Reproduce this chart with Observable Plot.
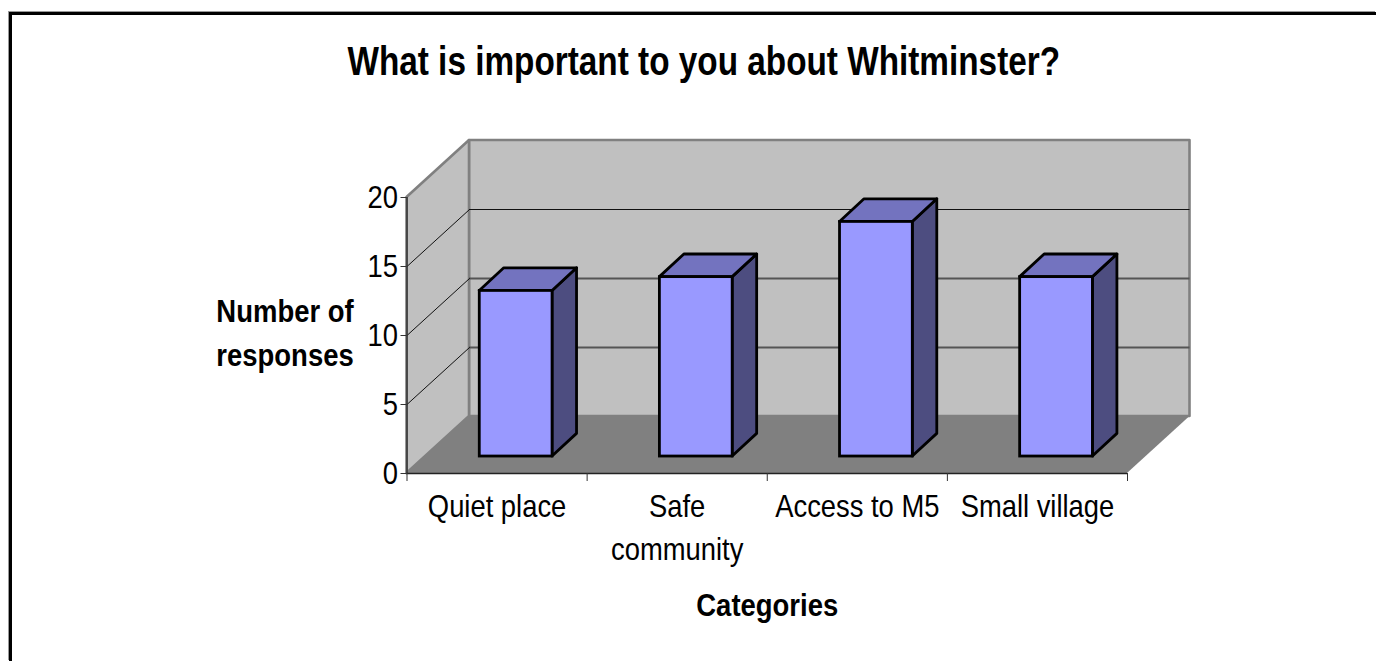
<!DOCTYPE html>
<html>
<head>
<meta charset="utf-8">
<script src="https://cdn.jsdelivr.net/npm/d3@7"></script>
<script src="https://cdn.jsdelivr.net/npm/@observablehq/plot@0.6"></script>
<style>
  html, body { margin: 0; padding: 0; background: #fff; width: 1376px; height: 661px; overflow: hidden; }
  body { font-family: "Liberation Sans", Arial, sans-serif; color: #000; position: relative; }
  #frame { position: absolute; left: 9px; top: 12px; right: 0; bottom: 0; border-left: 3px solid #000; border-top: 3px solid #000; box-shadow: -1px -1px 0 #999; }
  #head { position: relative; height: 100px; text-align: center; width: 1408px; }
  #head h1 { position: absolute; left: 0; right: 0; top: 39px; margin: 0; font-size: 40px; line-height: 44px; font-weight: bold; white-space: nowrap; }
  #head h1 span { display: inline-block; transform-origin: center; }
  #chart { display: block; position: relative; }
</style>
</head>
<body>
<div id="frame"></div>
<div id="head"><h1><span id="title">What is important to you about Whitminster?</span></h1></div>
<div id="chart"></div>
<script>
const categories = ["Quiet place", "Safe\ncommunity", "Access to M5", "Small village"];
const responses = [12, 13, 17, 13];
const yTicks = [0, 5, 10, 15, 20];
const yTitle = "Number of\nresponses";
const xTitle = "Categories";

// Depth of the 3D box and of each column, in data units of the two scales.
const wallDx = 0.347, wallDy = 4.13;
const barInsetDx = 0.106, barInsetDy = 1.23;
const barDx = 0.136, barDy = 1.64, barWidth = 0.404;
const n = categories.length, yMax = 20;

const bars = responses.map((v, i) => {
  const x0 = i + (1 - barWidth) / 2 + barInsetDx;
  return { x0, x1: x0 + barWidth, base: barInsetDy, top: barInsetDy + v };
});

const sideWall = [
  { x: 0, y1: 0, y2: yMax },
  { x: wallDx, y1: wallDy, y2: yMax + wallDy }
];
const backWall = [
  { x: wallDx, y1: wallDy, y2: yMax + wallDy },
  { x: n + wallDx, y1: wallDy, y2: yMax + wallDy }
];
const floor = [
  { y: 0, x1: 0, x2: n },
  { y: wallDy, x1: wallDx, x2: n + wallDx }
];
const barFront = bars.map((b, i) => ({ i, x1: b.x0, x2: b.x1, y1: b.base, y2: b.top }));
const barSide = bars.flatMap((b, i) => [
  { i, x: b.x1, y1: b.base, y2: b.top },
  { i, x: b.x1 + barDx, y1: b.base + barDy, y2: b.top + barDy }
]);
const barTop = bars.flatMap((b, i) => [
  { i, y: b.top, x1: b.x0, x2: b.x1 },
  { i, y: b.top + barDy, x1: b.x0 + barDx, x2: b.x1 + barDx }
]);
const inner = yTicks.filter(v => v > 0 && v < yMax);
const thinGrid = inner.filter(v => v === 15);
const thickGrid = inner.filter(v => v !== 15);

const chart = Plot.plot({
  width: 1376, height: 561,
  marginLeft: 406.5, marginRight: 249, marginTop: 97, marginBottom: 188,
  x: { type: "linear", domain: [0, n] },
  y: { type: "linear", domain: [0, yMax] },
  style: { background: "transparent", fontFamily: "'Liberation Sans', Arial, sans-serif", color: "#000", overflow: "visible" },
  marks: [
    // walls
    Plot.area(backWall, { x1: "x", y1: "y1", y2: "y2", fill: "#c0c0c0", stroke: "#808080", strokeWidth: 2.6 }),
    Plot.area(sideWall, { x1: "x", y1: "y1", y2: "y2", fill: "#c0c0c0", stroke: "#808080", strokeWidth: 2.6 }),
    Plot.area(floor, { x1: "x1", x2: "x2", y1: "y", y2: "y", fill: "#808080" }),
    // gridlines: back wall and side wall
    Plot.ruleY(thickGrid, { y: d => d + wallDy, x1: wallDx, x2: n + wallDx, stroke: "#555", strokeWidth: 1.8 }),
    Plot.ruleY(thinGrid, { y: d => d + wallDy, x1: wallDx, x2: n + wallDx, stroke: "#111", strokeWidth: 1 }),
    ...inner.map(v => Plot.line([[0, v], [wallDx, v + wallDy]], { stroke: "#111", strokeWidth: 1 })),
    // axis lines
    Plot.ruleX([0], { y1: 0, y2: yMax, stroke: "#333", strokeWidth: 1.5 }),
    Plot.ruleY([0], { x1: 0, x2: n, stroke: "#222", strokeWidth: 1.5 }),
    Plot.axisY({ ticks: yTicks, tickSize: 6, tickPadding: 3, fontSize: 32, label: null, stroke: "#333" }),
    Plot.axisX({ ticks: d3.range(n + 1), tickSize: 8, tickFormat: () => "", label: null, stroke: "#333" }),
    Plot.axisX({ ticks: categories.map((_, i) => i + 0.5), tickSize: 0, tickPadding: 13, fontSize: 32, lineHeight: 1.34,
                 tickFormat: d => categories[d - 0.5], label: null, textOverflow: null, lineWidth: Infinity }),
    // columns
    Plot.area(barSide, { x1: "x", y1: "y1", y2: "y2", z: "i", fill: "#4d4d80", stroke: "#000", strokeWidth: 2.8 }),
    Plot.area(barTop, { x1: "x1", x2: "x2", y1: "y", y2: "y", z: "i", fill: "#7373bf", stroke: "#000", strokeWidth: 2.8 }),
    Plot.rect(barFront, { x1: "x1", x2: "x2", y1: "y1", y2: "y2", fill: "#9999ff", stroke: "#000", strokeWidth: 2.8 }),
    // titles
    Plot.text([yTitle], { text: d => d, frameAnchor: "left", textAnchor: "middle", dx: -122, dy: -5.5, fontSize: 31, fontWeight: "bold", lineHeight: 1.42 }),
    Plot.text([xTitle], { text: d => d, frameAnchor: "bottom", dy: 142, fontSize: 31, fontWeight: "bold" })
  ]
});
document.getElementById("chart").appendChild(chart);

// The original's type is tall and narrow: squeeze glyphs horizontally.
const squeezeRegular = 0.855, squeezeBold = 0.886;
chart.querySelectorAll("text").forEach(t => {
  const bold = t.closest("[font-weight]") && t.closest("[font-weight]").getAttribute("font-weight") === "bold";
  const squeeze = bold ? squeezeBold : squeezeRegular;
  const parts = t.querySelectorAll("tspan");
  (parts.length ? [...parts] : [t]).forEach(el => {
    const len = el.getComputedTextLength();
    if (len > 0) {
      el.setAttribute("textLength", len * squeeze);
      el.setAttribute("lengthAdjust", "spacingAndGlyphs");
    }
  });
});
document.getElementById("title").style.transform = "scaleX(0.833)";
</script>
</body>
</html>
